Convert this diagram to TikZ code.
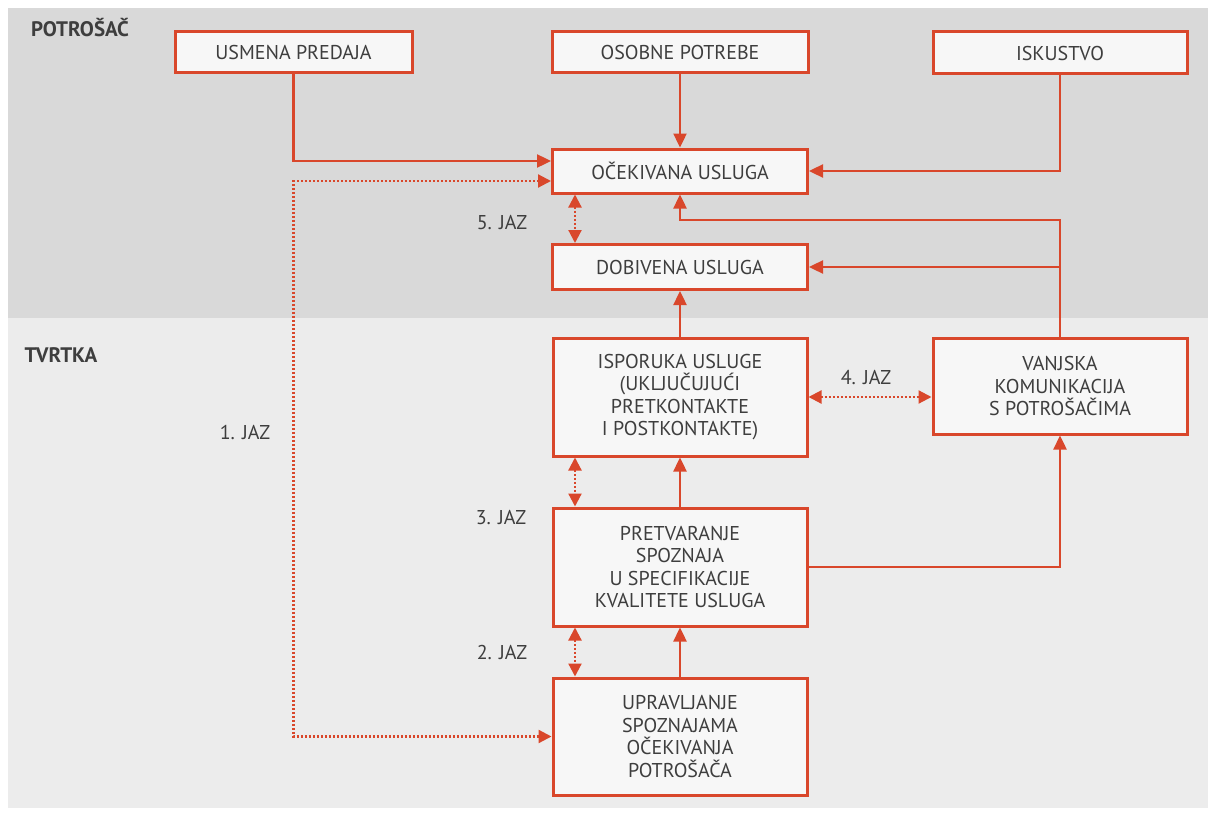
\documentclass[tikz,border=0pt]{standalone}
\usepackage{fontspec}
\setmainfont{PT Sans}
\usetikzlibrary{arrows.meta}
\definecolor{jred}{HTML}{D9472B}
\definecolor{jtext}{HTML}{3E3E3E}
\definecolor{topbg}{HTML}{D9D9D9}
\definecolor{botbg}{HTML}{ECECEC}
\begin{document}
\begin{tikzpicture}[x=1pt,y=-1pt,
				box/.style={draw=jred,line width=3pt,fill=white!97!black,text=jtext,
					align=center,font=\fontsize{20}{22.5}\selectfont,inner sep=0pt},
				link/.style={jred,line width=2.4pt,-{Triangle[length=14pt,width=13pt]}},
				gap/.style={jred,line width=2.2pt,dash pattern=on 2pt off 2pt,
					{Triangle[length=13pt,width=13pt]}-{Triangle[length=13pt,width=13pt]}},
				lbl/.style={text=jtext,font=\fontsize{20}{22}\selectfont},
				head/.style={text=jtext,font=\fontsize{21}{22}\selectfont\bfseries}]
\useasboundingbox (0,0) rectangle (1208,816);
\fill[topbg] (8,8) rectangle (1208,318);
\fill[botbg] (8,318) rectangle (1208,808);
\node[head] (pot) at (80,28) {POTROŠAČ};
\node[head] (tvr) at (61,355) {TVRTKA};
\node[box,minimum width=237pt,minimum height=41pt] (usm) at (293.5,52.5) {USMENA PREDAJA};
\node[box,minimum width=256pt,minimum height=41pt] (oso) at (680,52.5) {OSOBNE POTREBE};
\node[box,minimum width=254pt,minimum height=42pt] (isk) at (1060,53) {ISKUSTVO};
\node[box,minimum width=255pt,minimum height=44pt] (oce) at (680,171) {OČEKIVANA USLUGA};
\node[box,minimum width=255pt,minimum height=45pt] (dob) at (680,267) {DOBIVENA USLUGA};
\node[box,minimum width=254pt,minimum height=118pt] (isp) at (680,397)
	{ISPORUKA USLUGE\\(UKLJUČUJUĆI\\PRETKONTAKTE\\I POSTKONTAKTE)};
\node[box,minimum width=254pt,minimum height=96pt] (van) at (1060,386)
	{VANJSKA\\KOMUNIKACIJA\\S POTROŠAČIMA};
\node[box,minimum width=254pt,minimum height=118pt] (pre) at (680,567)
	{PRETVARANJE\\SPOZNAJA\\U SPECIFIKACIJE\\KVALITETE USLUGA};
\node[box,minimum width=254pt,minimum height=117pt] (upr) at (680,736.5)
	{UPRAVLJANJE\\SPOZNAJAMA\\OČEKIVANJA\\POTROŠAČA};
\node[lbl] (j1) at (245,432) {1. JAZ};
\node[lbl] (j2) at (502,652) {2. JAZ};
\node[lbl] (j3) at (501,518) {3. JAZ};
\node[lbl] (j4) at (866,378) {4. JAZ};
\node[lbl] (j5) at (502,223) {5. JAZ};
% potrosac
\draw[link] (usm.south) |- ([yshift=10pt]oce.west);
\draw[link] (oso) -- (oce);
\draw[link] (isk.south) |- (oce.east);
\draw[gap] ([yshift=-10pt]oce.west) -| (usm.south |- upr.west) -- (upr.west);
\draw[gap] ([xshift=-105pt]oce.south) -- ([xshift=-105pt]dob.north);
\draw[link] (van.north) -- (van.north |- 0,220) -| (oce.south);
\draw[link] (van.north |- dob.east) -- (dob.east);
% tvrtka
\draw[link] (isp) -- (dob);
\draw[gap] (isp.east) -- (van.west |- isp.east);
\draw[gap] ([xshift=-105pt]isp.south) -- ([xshift=-105pt]pre.north);
\draw[link] (pre) -- (isp);
\draw[link] (pre.east) -| (van.south);
\draw[gap] ([xshift=-105pt]pre.south) -- ([xshift=-105pt]upr.north);
\draw[link] (upr) -- (pre);
\end{tikzpicture}
\end{document}
